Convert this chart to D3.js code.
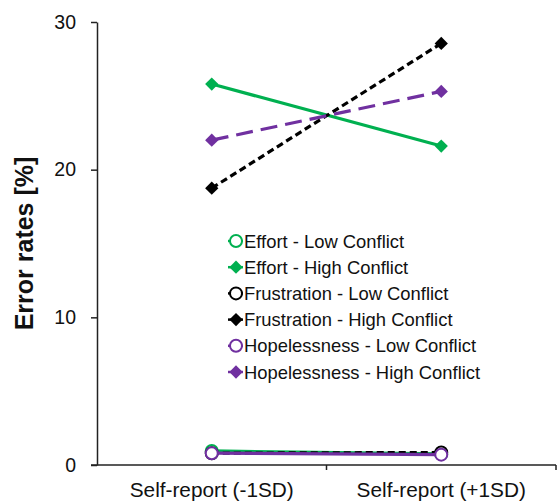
<!DOCTYPE html>
<html>
<head>
<meta charset="utf-8">
<script src="https://cdn.jsdelivr.net/npm/d3@7"></script>
<style>
  html, body { margin: 0; padding: 0; background: #fff; }
  svg { display: block; font-family: "Liberation Sans", Arial, sans-serif; }
</style>
</head>
<body>
<div id="chart"></div>
<script>
// Categories on the x axis
const categories = ["Self-report (-1SD)", "Self-report (+1SD)"];

// Error rates (%) per series, one value per category
const effortLow = [0.95, 0.75];
const effortHigh = [25.8, 21.6];
const frustrationLow = [0.8, 0.85];
const frustrationHigh = [18.75, 28.55];
const hopelessnessLow = [0.8, 0.7];
const hopelessnessHigh = [22.0, 25.3];

const yTicks = [0, 10, 20, 30];

const seriesNames = [
  "Effort - Low Conflict",
  "Effort - High Conflict",
  "Frustration - Low Conflict",
  "Frustration - High Conflict",
  "Hopelessness - Low Conflict",
  "Hopelessness - High Conflict"
];
const seriesValues = [effortLow, effortHigh, frustrationLow, frustrationHigh, hopelessnessLow, hopelessnessHigh];

const green = "#00B050", purple = "#7030A0", black = "#000000";
const styles = [
  { color: green,  dash: null,    marker: "circle" },
  { color: green,  dash: null,    marker: "diamond" },
  { color: black,  dash: "7,4",   marker: "circle" },
  { color: black,  dash: "7,4",   marker: "diamond" },
  { color: purple, dash: null,    marker: "circle" },
  { color: purple, dash: "17,8",  marker: "diamond" }
];

const series = seriesNames.map((name, i) => ({ name, values: seriesValues[i], style: styles[i] }));

const W = 558, H = 502;
const margin = { left: 97, right: 2, top: 22, bottom: 37 };
const textColor = "#111";

const svg = d3.select("#chart").append("svg").attr("width", W).attr("height", H);

const x = d3.scaleBand().domain(categories).range([margin.left, W - margin.right]);
const y = d3.scaleLinear().domain([0, 30]).range([H - margin.bottom, margin.top]);

// y axis
const yAxis = svg.append("g")
  .attr("transform", `translate(${margin.left},0)`)
  .call(d3.axisLeft(y).tickValues(yTicks).tickSize(6).tickPadding(15).tickSizeOuter(0));
yAxis.select(".domain").attr("stroke", "#222").attr("stroke-width", 1.5);
yAxis.selectAll(".tick line").attr("stroke", "#222").attr("stroke-width", 1.5);
yAxis.selectAll(".tick text").attr("font-size", 19.5).attr("fill", textColor)
  .attr("font-family", "Liberation Sans, Arial, sans-serif");

// x axis: ticks at band boundaries, pointing down
const xAxisG = svg.append("g").attr("transform", `translate(0,${y(0)})`);
xAxisG.append("line")
  .attr("x1", margin.left - 6).attr("x2", W - margin.right)
  .attr("stroke", "#222").attr("stroke-width", 1.5);
categories.forEach(c => {
  const bx = x(c) + x.bandwidth();
  xAxisG.append("line").attr("x1", bx).attr("x2", bx).attr("y1", 0).attr("y2", 5)
    .attr("stroke", "#222").attr("stroke-width", 1.5);
  xAxisG.append("text")
    .attr("x", x(c) + x.bandwidth() / 2).attr("y", 32)
    .attr("text-anchor", "middle").attr("font-size", 20.8).attr("fill", textColor)
    .text(c);
});

// y axis title
svg.append("text")
  .attr("transform", `translate(33,${(y(0) + y(30)) / 2}) rotate(-90)`)
  .attr("text-anchor", "middle").attr("font-size", 25).attr("font-weight", "bold")
  .attr("fill", textColor).text("Error rates [%]");

const cx = c => x(c) + x.bandwidth() / 2;
const line = d3.line().x(d => cx(d.c)).y(d => y(d.v));

function drawMarker(g, s, px, py) {
  if (s.marker === "circle") {
    g.append("circle").attr("cx", px).attr("cy", py).attr("r", 6)
      .attr("fill", "#fff").attr("stroke", s.color).attr("stroke-width", 2);
  } else {
    g.append("path").attr("d", d3.symbol().type(d3.symbolSquare).size(88)())
      .attr("transform", `translate(${px},${py}) rotate(45)`)
      .attr("fill", s.color);
  }
}

// lines, drawn high-conflict first so the low-conflict strands stay on top near zero
const order = [1, 3, 5, 0, 2, 4];
order.forEach(i => {
  const s = series[i];
  const pts = s.values.map((v, j) => ({ c: categories[j], v }));
  const g = svg.append("g");
  g.append("path").attr("d", line(pts)).attr("fill", "none")
    .attr("stroke", s.style.color).attr("stroke-width", 3.2)
    .attr("stroke-dasharray", s.style.dash);
  pts.forEach(p => drawMarker(g, s.style, cx(p.c), y(p.v)));
});

// legend
const legend = svg.append("g").attr("transform", "translate(228,241)");
series.forEach((s, i) => {
  const g = legend.append("g").attr("transform", `translate(0,${i * 26.2})`);
  g.append("line").attr("x1", 0).attr("x2", 15).attr("stroke", s.style.color).attr("stroke-width", 2.5);
  drawMarker(g, s.style, 8, 0);
  g.append("text").attr("x", 16).attr("y", 0).attr("dy", "0.36em")
    .attr("font-size", 18.4).attr("fill", textColor).text(s.name);
});
</script>
</body>
</html>
